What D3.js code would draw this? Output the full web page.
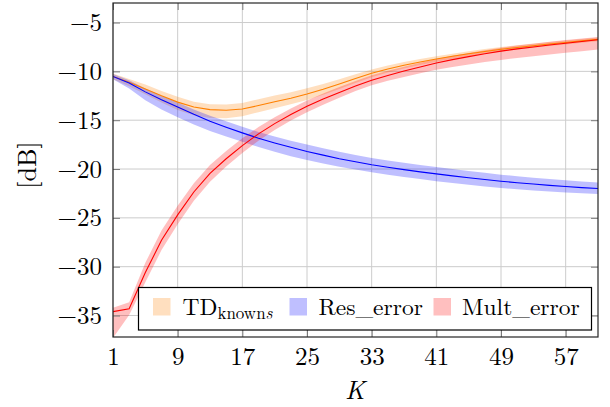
<!DOCTYPE html>
<html>
<head>
<meta charset="utf-8">
<script src="https://cdn.jsdelivr.net/npm/d3@7"></script>
<style>
  html, body { margin: 0; padding: 0; background: #fff; }
  svg { display: block; }
</style>
</head>
<body>
<svg id="chart" width="610" height="407"></svg>
<script>
// Number of components K
const kValues = [1, 3, 5, 7, 9, 11, 13, 15, 17, 19, 21, 23, 25, 27, 29, 31, 33, 35, 37, 39, 41, 43, 45, 47, 49, 51, 53, 55, 57, 59, 61];

// TD_knowns: mean and spread band (dB)
const tdMean = [-10.52, -11.12, -11.8, -12.5, -13.15, -13.65, -13.92, -13.98, -13.85, -13.5, -13.12, -12.75, -12.32, -11.84, -11.3, -10.74, -10.2, -9.76, -9.38, -9.04, -8.73, -8.45, -8.2, -7.96, -7.74, -7.55, -7.37, -7.2, -7.04, -6.88, -6.72];
const tdHigh = [-10.22, -10.77, -11.35, -12.0, -12.6, -13.1, -13.37, -13.4, -13.23, -12.85, -12.47, -12.13, -11.72, -11.29, -10.8, -10.29, -9.8, -9.4, -9.05, -8.74, -8.45, -8.19, -7.95, -7.72, -7.51, -7.33, -7.15, -6.99, -6.83, -6.68, -6.52];
const tdLow = [-10.82, -11.52, -12.35, -13.2, -13.95, -14.5, -14.77, -14.8, -14.6, -14.18, -13.77, -13.37, -12.92, -12.39, -11.8, -11.19, -10.6, -10.12, -9.71, -9.34, -9.01, -8.71, -8.45, -8.2, -7.97, -7.77, -7.59, -7.41, -7.25, -7.08, -6.92];

// Res_error: mean and spread band (dB)
const resMean = [-10.52, -11.2, -12.1, -12.9, -13.65, -14.4, -15.1, -15.72, -16.3, -16.85, -17.33, -17.78, -18.2, -18.58, -18.94, -19.26, -19.56, -19.82, -20.06, -20.29, -20.5, -20.7, -20.89, -21.07, -21.25, -21.4, -21.54, -21.67, -21.79, -21.9, -21.99];
const resHigh = [-10.27, -10.9, -11.75, -12.5, -13.2, -13.9, -14.55, -15.12, -15.68, -16.2, -16.68, -17.1, -17.5, -17.88, -18.24, -18.56, -18.86, -19.12, -19.36, -19.59, -19.8, -20.0, -20.2, -20.39, -20.58, -20.74, -20.89, -21.03, -21.16, -21.28, -21.39];
const resLow = [-10.82, -11.75, -12.95, -13.9, -14.7, -15.45, -16.1, -16.67, -17.2, -17.75, -18.23, -18.68, -19.08, -19.43, -19.76, -20.06, -20.34, -20.58, -20.81, -21.03, -21.24, -21.43, -21.61, -21.78, -21.94, -22.08, -22.2, -22.3, -22.4, -22.48, -22.55];

// Mult_error: mean and spread band (dB)
const multMean = [-34.6, -34.3, -30.6, -27.3, -24.7, -22.35, -20.45, -18.95, -17.6, -16.4, -15.35, -14.42, -13.58, -12.84, -12.16, -11.5, -10.9, -10.42, -9.97, -9.55, -9.14, -8.8, -8.49, -8.2, -7.93, -7.7, -7.5, -7.3, -7.12, -6.94, -6.77];
const multHigh = [-34.2, -33.65, -29.6, -26.3, -23.75, -21.45, -19.6, -18.15, -16.85, -15.7, -14.7, -13.8, -12.98, -12.27, -11.61, -10.98, -10.4, -9.95, -9.52, -9.12, -8.74, -8.41, -8.11, -7.83, -7.58, -7.36, -7.17, -6.98, -6.8, -6.63, -6.47];
const multLow = [-37.3, -34.95, -31.6, -28.3, -25.65, -23.25, -21.3, -19.75, -18.35, -17.1, -16.0, -15.04, -14.18, -13.41, -12.71, -12.02, -11.42, -10.97, -10.57, -10.2, -9.84, -9.55, -9.29, -9.05, -8.83, -8.62, -8.45, -8.27, -8.1, -7.93, -7.77];

// Axis ticks
const xTicks = [1, 9, 17, 25, 33, 41, 49, 57];
const yTicks = [-35, -30, -25, -20, -15, -10, -5];

const series = [
  { name: "TD", sub: "knowns", mean: tdMean, high: tdHigh, low: tdLow, color: "#ff8000" },
  { name: "Res_error", mean: resMean, high: resHigh, low: resLow, color: "#0000ff" },
  { name: "Mult_error", mean: multMean, high: multHigh, low: multLow, color: "#ff0000" }
];

const serif = "'Latin Modern Roman', 'Liberation Serif', 'Times New Roman', serif";
const tickFont = "25px";
const titleFont = "26px";
const legendFont = "23.5px";
const plot = { left: 113, right: 598, top: 3, bottom: 337 };
const svg = d3.select("#chart");

const x = d3.scaleLinear().domain([1, 61]).range([plot.left, plot.right]);
const y = d3.scaleLinear().domain([-37.2, -3.0]).range([plot.bottom, plot.top]);

svg.append("defs").append("clipPath").attr("id", "plot-clip")
  .append("rect")
  .attr("x", plot.left).attr("y", plot.top)
  .attr("width", plot.right - plot.left).attr("height", plot.bottom - plot.top);

// Grid
const grid = svg.append("g").attr("stroke", "#cccccc").attr("stroke-width", 1);
grid.selectAll("line.gx").data(xTicks).join("line")
  .attr("x1", d => x(d)).attr("x2", d => x(d))
  .attr("y1", plot.top).attr("y2", plot.bottom);
grid.selectAll("line.gy").data(yTicks).join("line")
  .attr("x1", plot.left).attr("x2", plot.right)
  .attr("y1", d => y(d)).attr("y2", d => y(d));

// Bands and mean lines
const marks = svg.append("g").attr("clip-path", "url(#plot-clip)");
series.forEach(s => {
  const rows = kValues.map((k, i) => ({ k, hi: s.high[i], lo: s.low[i] }));
  const area = d3.area().x(d => x(d.k)).y0(d => y(d.lo)).y1(d => y(d.hi));
  marks.append("path").datum(rows)
    .attr("d", area)
    .attr("fill", s.color).attr("fill-opacity", 0.25).attr("stroke", "none");
});
series.forEach(s => {
  const rows = kValues.map((k, i) => ({ k, m: s.mean[i] }));
  const line = d3.line().x(d => x(d.k)).y(d => y(d.m));
  marks.append("path").datum(rows)
    .attr("d", line)
    .attr("fill", "none").attr("stroke", s.color).attr("stroke-width", 1.1);
});

// Axes: ticks on all four sides pointing inward
const tickLen = 7;
const axisBottom = d3.axisBottom(x).tickValues(xTicks).tickSize(-tickLen).tickPadding(10).tickFormat(d3.format("d"));
const axisTop = d3.axisTop(x).tickValues(xTicks).tickSize(-tickLen).tickFormat("");
const axisLeft = d3.axisLeft(y).tickValues(yTicks).tickSize(-tickLen).tickPadding(11)
  .tickFormat(d => d < 0 ? "\u2212" + Math.abs(d) : String(d));
const axisRight = d3.axisRight(y).tickValues(yTicks).tickSize(-tickLen).tickFormat("");

function styleAxis(g) {
  g.attr("font-family", null).attr("font-size", null);
  g.select(".domain").remove();
  g.selectAll(".tick line").attr("stroke", "#7a7a7a").attr("stroke-width", 1);
  g.selectAll(".tick text").style("font-family", serif).style("font-size", tickFont).attr("fill", "#000");
}

svg.append("g").attr("transform", `translate(0,${plot.bottom})`).call(axisBottom).call(styleAxis)
  .selectAll(".tick text").attr("dy", "0.72em");
svg.append("g").attr("transform", `translate(0,${plot.top})`).call(axisTop).call(styleAxis);
svg.append("g").attr("transform", `translate(${plot.left},0)`).call(axisLeft).call(styleAxis);
svg.append("g").attr("transform", `translate(${plot.right},0)`).call(axisRight).call(styleAxis);

// Frame
svg.append("rect")
  .attr("x", plot.left).attr("y", plot.top)
  .attr("width", plot.right - plot.left).attr("height", plot.bottom - plot.top)
  .attr("fill", "none").attr("stroke", "#262626").attr("stroke-width", 1.2);

// Axis titles
svg.append("text")
  .attr("transform", "translate(36,165) rotate(-90)")
  .attr("text-anchor", "middle").attr("fill", "#000")
  .style("font-family", serif).style("font-size", titleFont)
  .text("[dB]");
svg.append("text")
  .attr("x", 355).attr("y", 399)
  .attr("text-anchor", "middle").attr("fill", "#000")
  .style("font-family", serif).style("font-size", titleFont).style("font-style", "italic")
  .text("K");

// Legend
const legend = svg.append("g");
legend.append("rect")
  .attr("x", 138.5).attr("y", 287.5).attr("width", 453).attr("height", 42.5)
  .attr("fill", "#fff").attr("stroke", "#000").attr("stroke-width", 1.2);

const legendItems = [
  { s: series[0], sx: 153, tx: 182.5 },
  { s: series[1], sx: 289.5, tx: 318.5 },
  { s: series[2], sx: 433.5, tx: 462 }
];
legendItems.forEach(it => {
  legend.append("rect")
    .attr("x", it.sx).attr("y", 298).attr("width", 17.5).attr("height", 17.5)
    .attr("fill", it.s.color).attr("fill-opacity", 0.25);
  const t = legend.append("text")
    .attr("x", it.tx).attr("y", 315).attr("fill", "#000")
    .style("font-family", serif).style("font-size", legendFont);
  t.append("tspan").text(it.s.name);
  if (it.s.sub) {
    t.append("tspan").attr("dy", 4).style("font-size", "17px").text(it.s.sub.slice(0, -1));
    t.append("tspan").style("font-size", "17px").style("font-style", "italic").text(it.s.sub.slice(-1));
  }
});
</script>
</body>
</html>
